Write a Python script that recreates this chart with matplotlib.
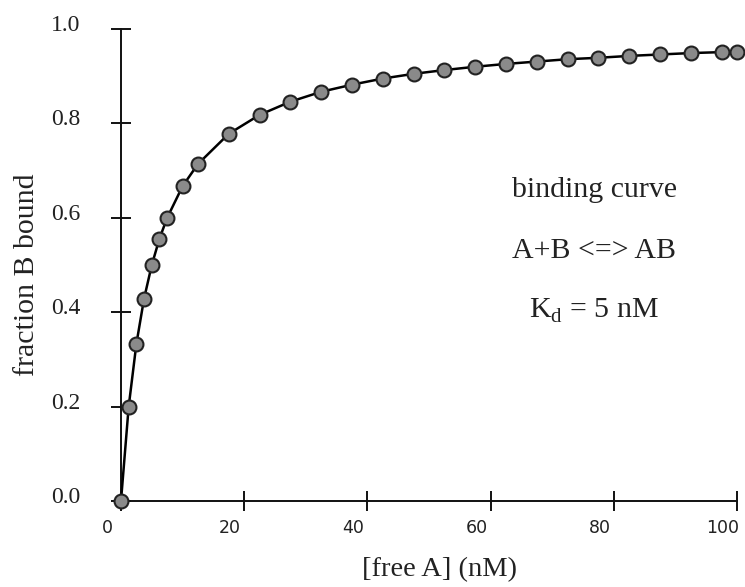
import numpy as np
import matplotlib
matplotlib.use("Agg")
import matplotlib.pyplot as plt
import matplotlib.transforms as mtransforms

plt.rcParams['font.family'] = ['Liberation Serif', 'DejaVu Serif']
plt.rcParams['mathtext.fontset'] = 'custom'
plt.rcParams['mathtext.rm'] = 'Liberation Serif'

# free ligand concentration (nM) and fraction of B bound
free_a = [0, 1.25, 2.5, 3.75, 5, 6.25, 7.5, 10, 12.5, 17.5, 22.5, 27.5, 32.5,
          37.5, 42.5, 47.5, 52.5, 57.5, 62.5, 67.5, 72.5, 77.5, 82.5, 87.5,
          92.5, 97.5, 100]
frac_bound = [0.0, 0.20, 0.333, 0.429, 0.50, 0.556, 0.60, 0.667, 0.714, 0.778,
              0.818, 0.846, 0.867, 0.882, 0.895, 0.905, 0.913, 0.920, 0.926,
              0.931, 0.936, 0.939, 0.943, 0.946, 0.949, 0.951, 0.952]

xticks = [0, 20, 40, 60, 80, 100]
yticks = [0.0, 0.2, 0.4, 0.6, 0.8, 1.0]

fig = plt.figure(figsize=(7.45, 5.87), dpi=100)
ax = fig.add_axes([0.1624, 0.1465, 0.8268, 0.8041])

ax.plot(free_a, frac_bound, color='black', linewidth=1.8,
        marker='o', markersize=10, markerfacecolor='#8a8a8a',
        markeredgecolor='#222222', markeredgewidth=1.5,
        clip_on=False, zorder=3)

ax.set_xlim(0, 100)
ax.set_ylim(0, 1.0)

# axis frame: only left and bottom lines
for side in ['top', 'right']:
    ax.spines[side].set_visible(False)
for side in ['left', 'bottom']:
    ax.spines[side].set_linewidth(1.4)
    ax.spines[side].set_color('#111111')

ax.set_xticks(xticks)
ax.set_xticklabels([str(v) for v in xticks])
ax.set_yticks(yticks)
ax.set_yticklabels([f"{v:.1f}" for v in yticks])

ax.tick_params(axis='both', direction='inout', length=14, width=1.4,
               color='#111111')
ax.tick_params(axis='y', pad=22, labelsize=17)
ax.tick_params(axis='x', pad=6, labelsize=12.5)

# x tick labels sit a little left of their ticks
shift_x = mtransforms.ScaledTranslation(-14 / 100, 0, fig.dpi_scale_trans)
for lbl in ax.get_xticklabels():
    lbl.set_fontfamily('DejaVu Sans')
    lbl.set_color('#222222')
    lbl.set_transform(lbl.get_transform() + shift_x)
shift_y = mtransforms.ScaledTranslation(0, 6 / 100, fig.dpi_scale_trans)
for lbl in ax.get_yticklabels():
    lbl.set_color('#222222')
    lbl.set_transform(lbl.get_transform() + shift_y)

ax.set_xlabel('[free A] (nM)', fontsize=20.5, color='#222222')
ax.xaxis.set_label_coords(0.517, -0.145)
ax.xaxis.label.set_va('center')
ax.set_ylabel('fraction B bound', fontsize=21.5, color='#222222')
ax.yaxis.set_label_coords(-0.153, 0.48)
ax.yaxis.label.set_va('center')

ax.text(76.8, 0.644, 'binding curve', ha='center', va='baseline',
        fontsize=21.5, color='#222222')
ax.text(76.8, 0.515, 'A+B <=> AB', ha='center', va='baseline',
        fontsize=21.5, color='#222222')
ax.text(76.8, 0.388, r'K$_\mathrm{d}$ = 5 nM', ha='center', va='baseline',
        fontsize=21.5, color='#222222')

fig.savefig('out.png', dpi=100)
